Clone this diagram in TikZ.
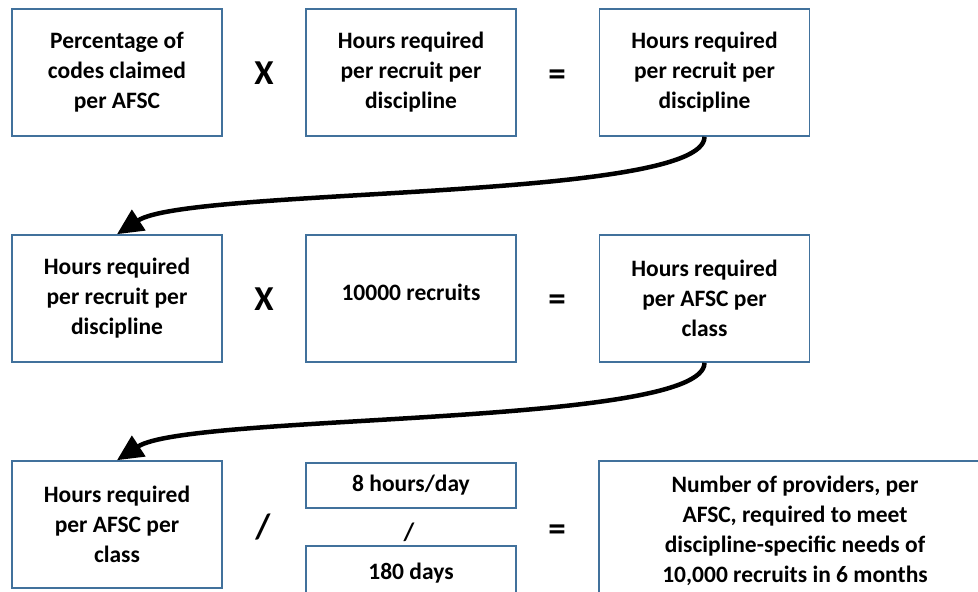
\documentclass[tikz,border=0pt]{standalone}
\usepackage{fontspec}
\setmainfont{Carlito}
\usetikzlibrary{arrows.meta,positioning,calc}
\definecolor{boxblue}{RGB}{65,113,156}

\begin{document}
\begin{tikzpicture}[
    x=1pt, y=-1pt,
    box/.style={rectangle, draw=boxblue, line width=1.6pt, minimum width=210pt,
        minimum height=127pt, align=center, inner sep=0,
        font=\fontsize{23.5}{30}\selectfont\bfseries},
    txt/.style={inner sep=0, font=\fontsize{25}{30}\selectfont\bfseries},
    op/.style={inner sep=0, font=\fontsize{35}{36}\selectfont\bfseries},
    flow/.style={line width=4.5pt, -{Triangle[length=26pt, width=24pt]}}]
\clip (0,0) rectangle (978,592);

% first row
\node[box] (pct)  at (117,72.5)   {Percentage of\\codes claimed\\per AFSC};
\node[box] (hrs1) at (411,72.5)   {Hours required\\per recruit per\\discipline};
\node[box] (hrs2) at (704.5,72.5) {Hours required\\per recruit per\\discipline};
\node[op] (x1)  at (264,73.5) {X};
\node[op] (eq1) at (557,78) {=};

% second row
\node[box] (hrs3) at (117,298.5)   {Hours required\\per recruit per\\discipline};
\node[box] (rec)  at (411,298.5)   {};
\node[box, draw=none, minimum height=0pt] (rectxt) at (411,292) {10000 recruits};
\node[box] (cls)  at (704.5,298.5) {Hours required\\per AFSC per\\class};
\node[op] (x2)  at (264,299.5) {X};
\node[op] (eq2) at (557,303) {=};

% third row
\node[box] (cls2) at (117,524.5) {Hours required\\per AFSC per\\class};
\node[box, minimum height=45pt] (day)  at (411,485.5) {8 hours/day};
\node[txt] (dv2) at (409,532) {/};
\node[box, minimum height=54pt] (days) at (411,573) {180 days};
\node[box, minimum width=392pt, minimum height=139pt] (prov) at (795,530.5)
    {Number of providers, per\\AFSC, required to meet\\discipline-specific needs of\\10,000 recruits in 6 months};
\node[op] (dv1) at (263,527) {/};
\node[op] (eq3) at (557,533) {=};

% arrows between rows
\draw[flow] (hrs2.south) .. controls +(0,64) and +(72,-47) .. (hrs3.north);
\draw[flow] (cls.south) .. controls +(0,64) and +(72,-47) .. (cls2.north);

\end{tikzpicture}
\end{document}
